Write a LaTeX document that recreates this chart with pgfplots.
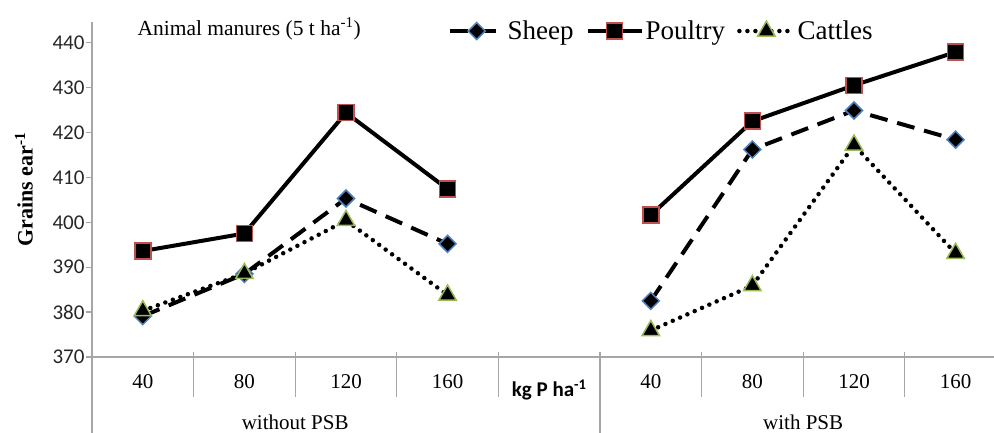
\documentclass[border=0pt]{standalone}
\usepackage{fontspec}
\setmainfont{Liberation Serif}
\newfontfamily\calibri{Carlito}
\usepackage{pgfplots}
\pgfplotsset{compat=1.18}
\definecolor{cRed}{HTML}{C0504D}
\definecolor{cBlue}{HTML}{4F81BD}
\definecolor{cGreen}{HTML}{9BBB59}
\definecolor{axgray}{HTML}{A6A6A6}
\begin{document}
\begin{tikzpicture}[x=1pt,y=1pt]
\useasboundingbox (0,0) rectangle (994,432);
\clip (0,0) rectangle (994,432);
\begin{axis}[
  at={(92pt,75pt)}, anchor=south west,
  scale only axis, width=902pt, height=335pt,
  xmin=-0.5, xmax=8.378, ymin=370, ymax=444.6,
  axis lines*=left,
  axis line style={draw=axgray, line width=1.2pt},
  ytick={370,380,...,440},
  yticklabel style={font=\calibri\fontsize{21}{24}\selectfont, text=black!85, xshift=2pt},
  tick align=outside, major tick length=6pt,
  ytick style={draw=axgray, line width=1.2pt},
  xtick={0,1,2,3,5,6,7,8},
  xticklabels={40,80,120,160,40,80,120,160},
  xtick style={draw=none},
  xticklabel style={font=\fontsize{21}{24}\selectfont, yshift=-8pt},
  /pgf/number format/assume math mode=true,
  ylabel={\textbf{Grains ear\textsuperscript{-1}}},
  ylabel style={font=\fontsize{22}{26}\selectfont, at={(axis description cs:-0.0754,0.5)}, anchor=center},
  unbounded coords=jump,
  clip=false,
  legend columns=3,
  legend style={draw=none, fill=none, font=\fontsize{27}{30}\selectfont,
    at={(axis description cs:0.631,0.973)}, anchor=center,
    /tikz/every even column/.append style={column sep=10pt}},
  legend image code/.code={\draw[mark repeat=2,mark phase=2,#1] plot coordinates {(0pt,0pt) (27pt,0pt) (54pt,0pt)};},
]
\addplot[black, line width=4pt, dash pattern=on 18pt off 10pt, mark=square*, mark size=6pt,
  mark options={solid, rotate=45, fill=black, draw=cBlue, line width=1.5pt}]
  coordinates {(0,379.1) (1,388.5) (2,405.3) (3,395.2) (4,nan) (5,382.5) (6,416.2) (7,424.9) (8,418.4)};
\addlegendentry{Sheep}
\addplot[black, line width=4pt, mark=square*, mark size=8pt,
  mark options={solid, fill=black, draw=cRed, line width=1.5pt}]
  coordinates {(0,393.6) (1,397.5) (2,424.4) (3,407.4) (4,nan) (5,401.6) (6,422.5) (7,430.5) (8,437.9)};
\addlegendentry{Poultry}
\addplot[black, line width=4.5pt, line cap=round, dash pattern=on 0pt off 8pt, mark=triangle*, mark size=10pt,
  mark options={solid, fill=black, draw=cGreen, line width=1.5pt}]
  coordinates {(0,380.3) (1,388.6) (2,400.4) (3,383.8) (4,nan) (5,375.9) (6,385.9) (7,417.2) (8,393.1)};
\addlegendentry{Cattles}
\draw[axgray, line width=1.2pt] ([yshift=5pt]axis cs:0.5,370) -- ([yshift=-40pt]axis cs:0.5,370);
\draw[axgray, line width=1.2pt] ([yshift=5pt]axis cs:1.5,370) -- ([yshift=-40pt]axis cs:1.5,370);
\draw[axgray, line width=1.2pt] ([yshift=5pt]axis cs:2.5,370) -- ([yshift=-40pt]axis cs:2.5,370);
\draw[axgray, line width=1.2pt] ([yshift=5pt]axis cs:3.5,370) -- ([yshift=-40pt]axis cs:3.5,370);
\draw[axgray, line width=1.2pt] ([yshift=5pt]axis cs:5.5,370) -- ([yshift=-40pt]axis cs:5.5,370);
\draw[axgray, line width=1.2pt] ([yshift=5pt]axis cs:6.5,370) -- ([yshift=-40pt]axis cs:6.5,370);
\draw[axgray, line width=1.2pt] ([yshift=5pt]axis cs:7.5,370) -- ([yshift=-40pt]axis cs:7.5,370);
\draw[axgray, line width=1.2pt] ([yshift=5pt]axis cs:4.5,370) -- ([yshift=-80pt]axis cs:4.5,370);
\draw[axgray, line width=1.2pt] (axis cs:-0.5,370) -- ([yshift=-80pt]axis cs:-0.5,370);
\node[font=\fontsize{21}{24}\selectfont, yshift=-65pt] at (axis cs:1.5,370) {without PSB};
\node[font=\fontsize{21}{24}\selectfont, yshift=-65pt] at (axis cs:6.5,370) {with PSB};
\node[font=\calibri\bfseries\fontsize{21}{24}\selectfont, yshift=-33pt] at (axis cs:4,370) {kg P ha\textsuperscript{-1}};
\end{axis}
\node[anchor=west, font=\fontsize{21.5}{24}\selectfont] at (134,403) {Animal manures (5 t ha\textsuperscript{-1})};
\end{tikzpicture}
\end{document}
